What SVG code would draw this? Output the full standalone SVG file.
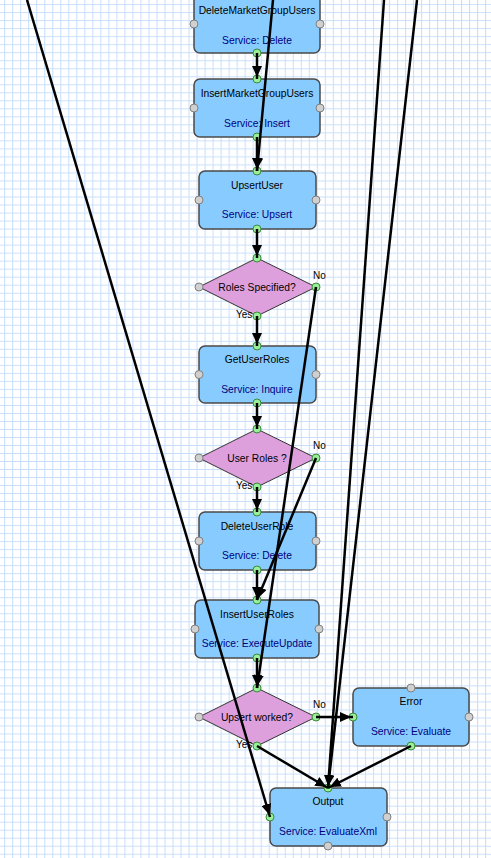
<svg xmlns="http://www.w3.org/2000/svg" width="491" height="858" viewBox="0 0 491 858">
<style>
.box{fill:#88ccff;stroke:#4a4a4a;stroke-width:1.5}
.dia{fill:#dda0dd;stroke:#333;stroke-width:1}
.t{font-family:"Liberation Sans",Arial,sans-serif;font-size:10.3px;fill:#000;text-anchor:middle}
.s{font-family:"Liberation Sans",Arial,sans-serif;font-size:10.3px;fill:#000080;text-anchor:middle}
.l{font-family:"Liberation Sans",Arial,sans-serif;font-size:10px;fill:#000}
.pg{fill:#99ee99;stroke:#3a8a3a;stroke-width:1}
.px{fill:#d0d0d0;stroke:#808080;stroke-width:1}
.c{fill:none;stroke:#000;stroke-width:2.5;marker-end:url(#ah)}
</style>
<defs>
<pattern id="grid" x="4.2" y="4.2" width="8.015" height="8.015" patternUnits="userSpaceOnUse">
<path d="M0.5,0 V8.015 M0,0.5 H8.015" stroke="#c6ddfb" stroke-width="1" fill="none"/>
</pattern>
<marker id="ah" viewBox="0 0 12 10" refX="13" refY="5" markerWidth="12" markerHeight="10" markerUnits="userSpaceOnUse" orient="auto">
<path d="M0,0 L11,5 L0,10 z" fill="#000"/>
</marker>
</defs>
<rect width="491" height="858" fill="#fff"/>
<rect width="491" height="858" fill="url(#grid)"/>

<g id="DeleteMarketGroupUsers">
<rect class="box" x="194" y="-5" width="126" height="58" rx="6"/>
<text class="t" x="257" y="14">DeleteMarketGroupUsers</text>
<text class="s" x="257" y="44">Service: Delete</text>
<circle class="px" cx="194" cy="24" r="4"/><circle class="px" cx="320" cy="24" r="4"/>
<circle class="pg" cx="257" cy="53" r="4"/>
</g>
<g id="InsertMarketGroupUsers">
<rect class="box" x="194" y="79" width="126" height="58" rx="6"/>
<text class="t" x="257" y="97">InsertMarketGroupUsers</text>
<text class="s" x="257" y="127">Service: Insert</text>
<circle class="px" cx="194" cy="108" r="4"/><circle class="px" cx="320" cy="108" r="4"/>
<circle class="pg" cx="257" cy="79" r="4"/><circle class="pg" cx="257" cy="137" r="4"/>
</g>
<g id="UpsertUser">
<rect class="box" x="199" y="171" width="117" height="58" rx="6"/>
<text class="t" x="257" y="189">UpsertUser</text>
<text class="s" x="257" y="218">Service: Upsert</text>
<circle class="px" cx="199" cy="200" r="4"/><circle class="px" cx="316" cy="200" r="4"/>
<circle class="pg" cx="257" cy="171" r="4"/><circle class="pg" cx="257" cy="229" r="4"/>
</g>
<g id="RolesSpecified">
<polygon class="dia" points="257,258 316,287 257,316 199,287"/>
<text class="t" x="257" y="291">Roles Specified?</text>
<circle class="px" cx="199" cy="287" r="4"/><circle class="pg" cx="316" cy="287" r="4"/>
<circle class="pg" cx="257" cy="258" r="4"/><circle class="pg" cx="257" cy="316" r="4"/>
<text class="l" x="313" y="279">No</text>
<text class="l" x="236" y="318">Yes</text>
</g>
<g id="GetUserRoles">
<rect class="box" x="199" y="346" width="117" height="57" rx="6"/>
<text class="t" x="257" y="363">GetUserRoles</text>
<text class="s" x="257" y="393">Service: Inquire</text>
<circle class="px" cx="199" cy="374.5" r="4"/><circle class="px" cx="316" cy="374.5" r="4"/>
<circle class="pg" cx="257" cy="346" r="4"/><circle class="pg" cx="257" cy="403" r="4"/>
</g>
<g id="UserRoles">
<polygon class="dia" points="257,429 316,458 257,487 199,458"/>
<text class="t" x="257" y="462">User Roles ?</text>
<circle class="px" cx="199" cy="458" r="4"/><circle class="pg" cx="316" cy="458" r="4"/>
<circle class="pg" cx="257" cy="429" r="4"/><circle class="pg" cx="257" cy="487" r="4"/>
<text class="l" x="313" y="449">No</text>
<text class="l" x="236" y="489">Yes</text>
</g>
<g id="DeleteUserRole">
<rect class="box" x="199" y="512" width="117" height="58" rx="6"/>
<text class="t" x="257" y="530">DeleteUserRole</text>
<text class="s" x="257" y="559">Service: Delete</text>
<circle class="px" cx="199" cy="541" r="4"/><circle class="px" cx="316" cy="541" r="4"/>
<circle class="pg" cx="257" cy="512" r="4"/><circle class="pg" cx="257" cy="570" r="4"/>
</g>
<g id="InsertUserRoles">
<rect class="box" x="195" y="600" width="124" height="58" rx="6"/>
<text class="t" x="257" y="618">InsertUserRoles</text>
<text class="s" x="257" y="647">Service: ExecuteUpdate</text>
<circle class="px" cx="195" cy="629" r="4"/><circle class="px" cx="319" cy="629" r="4"/>
<circle class="pg" cx="257" cy="600" r="4"/><circle class="pg" cx="257" cy="658" r="4"/>
</g>
<g id="UpsertWorked">
<polygon class="dia" points="257,688 316,717 257,746 199,717"/>
<text class="t" x="257" y="721">Upsert worked?</text>
<circle class="px" cx="199" cy="717" r="4"/><circle class="pg" cx="316" cy="717" r="4"/>
<circle class="pg" cx="257" cy="688" r="4"/><circle class="pg" cx="257" cy="746" r="4"/>
<text class="l" x="313" y="708">No</text>
<text class="l" x="236" y="748">Yes</text>
</g>
<g id="Error">
<rect class="box" x="353" y="688" width="116" height="58" rx="6"/>
<text class="t" x="411" y="705">Error</text>
<text class="s" x="411" y="735">Service: Evaluate</text>
<circle class="px" cx="411" cy="688" r="4"/><circle class="px" cx="469" cy="717" r="4"/>
<circle class="pg" cx="353" cy="717" r="4"/><circle class="pg" cx="411" cy="746" r="4"/>
</g>
<g id="Output">
<rect class="box" x="270" y="788" width="117" height="58" rx="6"/>
<text class="t" x="328" y="805">Output</text>
<text class="s" x="328" y="835">Service: EvaluateXml</text>
<circle class="px" cx="387" cy="817" r="4"/><circle class="px" cx="328" cy="846" r="4"/>
<circle class="pg" cx="328" cy="788" r="4"/><circle class="pg" cx="270" cy="817" r="4"/>
</g>

<g id="connectors">
<line class="c" x1="257" y1="53" x2="257" y2="79"/>
<line class="c" x1="273" y1="0" x2="257" y2="171"/>
<line class="c" x1="257" y1="137" x2="257" y2="171"/>
<line class="c" x1="257" y1="229" x2="257" y2="258"/>
<line class="c" x1="257" y1="316" x2="257" y2="346"/>
<line class="c" x1="316" y1="287" x2="257" y2="688"/>
<line class="c" x1="257" y1="403" x2="257" y2="429"/>
<line class="c" x1="257" y1="487" x2="257" y2="512"/>
<line class="c" x1="316" y1="458" x2="257" y2="600"/>
<line class="c" x1="257" y1="570" x2="257" y2="600"/>
<line class="c" x1="257" y1="658" x2="257" y2="688"/>
<line class="c" x1="316" y1="717" x2="353" y2="717"/>
<line class="c" x1="257" y1="746" x2="328" y2="788"/>
<line class="c" x1="411" y1="746" x2="328" y2="788"/>
<line class="c" x1="27" y1="0" x2="270" y2="817"/>
<line class="c" x1="384" y1="0" x2="328" y2="788"/>
<line class="c" x1="417" y1="0" x2="328" y2="788"/>
</g>
</svg>
